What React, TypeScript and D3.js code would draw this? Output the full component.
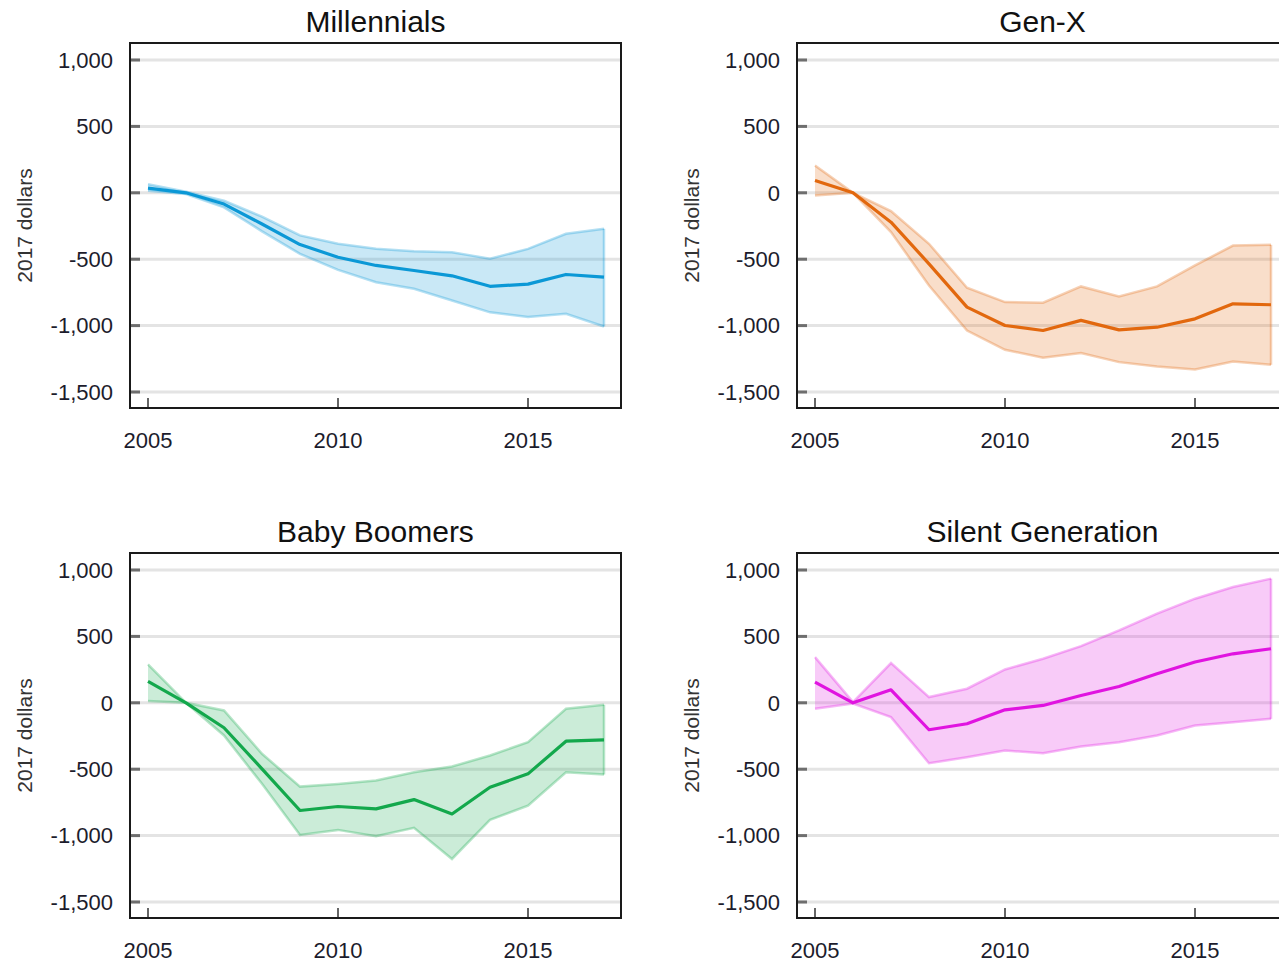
import React from "react";
import * as d3 from "d3";

const years = [2005, 2006, 2007, 2008, 2009, 2010, 2011, 2012, 2013, 2014, 2015, 2016, 2017];
const yTicks = [1000, 500, 0, -500, -1000, -1500];
const xTicks = [2005, 2010, 2015];

const millennialsMid = [35, 0, -85, -235, -390, -485, -547, -585, -625, -704, -688, -615, -635];
const millennialsHi = [65, 8, -60, -180, -321, -384, -422, -440, -447, -497, -422, -309, -271];
const millennialsLo = [15, -10, -110, -290, -460, -580, -673, -723, -811, -900, -936, -911, -1007];

const genxMid = [93, 0, -221, -535, -861, -999, -1037, -961, -1032, -1012, -949, -836, -843];
const genxHi = [206, 0, -138, -384, -715, -823, -828, -705, -781, -705, -547, -397, -392];
const genxLo = [-20, 0, -296, -698, -1037, -1182, -1242, -1207, -1275, -1308, -1330, -1270, -1295];

const boomersMid = [161, 0, -188, -497, -811, -781, -799, -729, -837, -636, -535, -289, -279];
const boomersHi = [289, 0, -58, -384, -631, -611, -585, -523, -480, -397, -296, -45, -15];
const boomersLo = [13, 0, -246, -610, -995, -957, -1005, -942, -1176, -882, -774, -523, -540];

const silentMid = [156, 0, 98, -203, -158, -53, -20, 55, 123, 219, 307, 369, 407];
const silentHi = [344, 5, 299, 43, 106, 251, 332, 427, 545, 671, 784, 872, 935];
const silentLo = [-45, -5, -108, -455, -410, -359, -379, -329, -297, -246, -171, -146, -121];

const titles = ["Millennials", "Gen-X", "Baby Boomers", "Silent Generation"];
const colors = ["#0b98d6", "#e2680e", "#13a84c", "#e014e0"];

const panels = [
  { title: titles[0], color: colors[0], mid: millennialsMid, hi: millennialsHi, lo: millennialsLo, dx: 0, dy: 0 },
  { title: titles[1], color: colors[1], mid: genxMid, hi: genxHi, lo: genxLo, dx: 667, dy: 0 },
  { title: titles[2], color: colors[2], mid: boomersMid, hi: boomersHi, lo: boomersLo, dx: 0, dy: 510 },
  { title: titles[3], color: colors[3], mid: silentMid, hi: silentHi, lo: silentLo, dx: 667, dy: 510 },
];

const FONT = "'Liberation Sans', Arial, sans-serif";
const fmt = (v: number) => d3.format(",")(v).replace("\u2212", "-");

function Panel({ p }: { p: typeof panels[number] }) {
  const x = d3.scaleLinear().domain([2005, 2017]).range([148, 604]);
  const y = d3.scaleLinear().domain([-1500, 1000]).range([392, 60]);
  const fL = 130, fR = 621, fT = y(1000) - 17, fB = y(-1500) + 16;
  const area = d3
    .area<number>()
    .x((_, i) => x(years[i]))
    .y0((_, i) => y(p.lo[i]))
    .y1((_, i) => y(p.hi[i]));
  const line = d3.line<number>().x((_, i) => x(years[i])).y((d) => y(d));
  const bandPath = area(years) as string;
  return (
    <g transform={`translate(${p.dx},${p.dy})`}>
      <text x={(fL + fR) / 2} y={fT - 11} textAnchor="middle" fontSize={30} fill="#111" fontFamily={FONT}>
        {p.title}
      </text>
      {yTicks.map((t) => (
        <g key={t}>
          <line x1={fL} x2={fR} y1={y(t)} y2={y(t)} stroke="#e4e4e4" strokeWidth={3} />
          <line x1={fL} x2={fL + 10} y1={y(t)} y2={y(t)} stroke="#6e6e6e" strokeWidth={3} />
          <text x={fL - 17} y={y(t)} dy="0.35em" textAnchor="end" fontSize={22} fill="#1c1c2c" fontFamily={FONT}>
            {fmt(t)}
          </text>
        </g>
      ))}
      <path d={bandPath} fill={p.color} fillOpacity={0.22} />
      <path d={line(p.hi) as string} fill="none" stroke={p.color} strokeOpacity={0.3} strokeWidth={2.5} />
      <path d={line(p.lo) as string} fill="none" stroke={p.color} strokeOpacity={0.3} strokeWidth={2.5} />
      <line x1={x(2017)} x2={x(2017)} y1={y(p.hi[12])} y2={y(p.lo[12])} stroke={p.color} strokeOpacity={0.3} strokeWidth={2.5} />
      <path d={line(p.mid) as string} fill="none" stroke={p.color} strokeWidth={3.2} strokeLinejoin="round" />
      {xTicks.map((t) => (
        <g key={t}>
          <line x1={x(t)} x2={x(t)} y1={fB} y2={fB - 10} stroke="#333" strokeWidth={1.5} />
          <text x={x(t)} y={fB + 40} textAnchor="middle" fontSize={22} fill="#1c1c2c" fontFamily={FONT}>
            {t}
          </text>
        </g>
      ))}
      <rect x={fL} y={fT} width={fR - fL} height={fB - fT} fill="none" stroke="#1a1a1a" strokeWidth={2} />
      <text
        transform={`translate(${32},${(fT + fB) / 2}) rotate(-90)`}
        textAnchor="middle"
        fontSize={21}
        fill="#333"
        fontFamily={FONT}
      >
        2017 dollars
      </text>
    </g>
  );
}

export default function App() {
  return (
    <svg
      width={1279}
      height={964}
      style={{ position: "absolute", left: 0, top: 0, background: "#fff" }}
    >
      <rect width={1279} height={964} fill="#fff" />
      {panels.map((p) => (
        <Panel key={p.title} p={p} />
      ))}
    </svg>
  );
}
